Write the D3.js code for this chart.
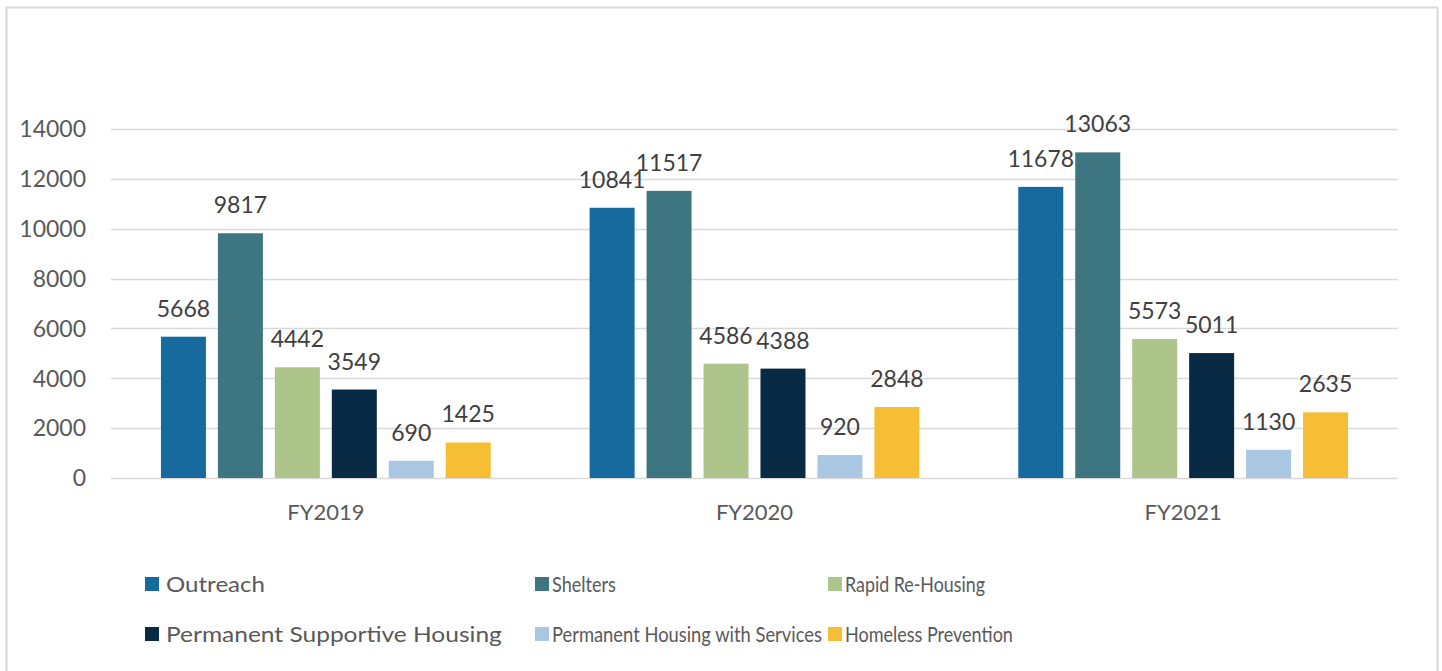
<!DOCTYPE html>
<html>
<head>
<meta charset="utf-8">
<script src="https://cdn.jsdelivr.net/npm/d3@7"></script>
<style>
  body { margin: 0; background: #fff; }
  text { font-family: Lato, "Open Sans", sans-serif; }
</style>
</head>
<body>
<div id="chart"></div>
<script>
// data
const years = ["FY2019", "FY2020", "FY2021"];
const programs = ["Outreach", "Shelters", "Rapid Re-Housing", "Permanent Supportive Housing", "Permanent Housing with Services", "Homeless Prevention"];
const outreach = [5668, 10841, 11678];
const shelters = [9817, 11517, 13063];
const rapidRehousing = [4442, 4586, 5573];
const permSupportive = [3549, 4388, 5011];
const permWithServices = [690, 920, 1130];
const homelessPrevention = [1425, 2848, 2635];
const yTicks = [0, 2000, 4000, 6000, 8000, 10000, 12000, 14000];
const colors = ["#176a9e", "#3d7580", "#adc58b", "#082a45", "#a9c6e3", "#f5be35"];

const series = [outreach, shelters, rapidRehousing, permSupportive, permWithServices, homelessPrevention];

const width = 1442, height = 671;
const svg = d3.select("#chart").append("svg")
  .attr("width", width)
  .attr("height", height);

// frame
svg.append("path")
  .attr("d", `M6.5,${height} V7.5 H1437.5 V${height}`)
  .attr("fill", "none")
  .attr("stroke", "#d9d9d9")
  .attr("stroke-width", 2);

const x0 = d3.scaleBand()
  .domain(years)
  .range([111.5, 1397.5]);

const x1 = d3.scaleBand()
  .domain(d3.range(programs.length))
  .range([0, x0.bandwidth()])
  .paddingInner(0.21)
  .paddingOuter(0.868);

const y = d3.scaleLinear()
  .domain([0, 14000])
  .range([478, 129]);

// gridlines
svg.append("g")
  .selectAll("line")
  .data(yTicks)
  .join("line")
  .attr("x1", 111)
  .attr("x2", 1398)
  .attr("y1", d => Math.round(y(d)) + 0.5)
  .attr("y2", d => Math.round(y(d)) + 0.5)
  .attr("stroke", "#d9d9d9")
  .attr("stroke-width", 1.5);

// y tick labels
svg.append("g")
  .selectAll("text")
  .data(yTicks)
  .join("text")
  .attr("x", 86)
  .attr("y", d => y(d))
  .attr("dy", "0.36em")
  .attr("text-anchor", "end")
  .attr("fill", "#595959")
  .style("font-size", "23px")
  .text(d => d);

// bars
const groups = svg.append("g")
  .selectAll("g")
  .data(years)
  .join("g")
  .attr("transform", d => `translate(${x0(d)},0)`);

groups.selectAll("rect")
  .data((d, yi) => series.map((s, i) => ({ i, v: s[yi] })))
  .join("rect")
  .attr("x", d => x1(d.i))
  .attr("width", x1.bandwidth())
  .attr("y", d => y(d.v))
  .attr("height", d => y(0) - y(d.v))
  .attr("fill", d => colors[d.i]);

groups.selectAll("text.val")
  .data((d, yi) => series.map((s, i) => ({ i, v: s[yi] })))
  .join("text")
  .attr("class", "val")
  .attr("x", d => x1(d.i) + x1.bandwidth() / 2)
  .attr("y", d => y(d.v) - 20)
  .attr("text-anchor", "middle")
  .attr("fill", "#404040")
  .style("font-size", "23px")
  .text(d => d.v);

// category labels
svg.append("g")
  .selectAll("text")
  .data(years)
  .join("text")
  .attr("x", d => x0(d) + x0.bandwidth() / 2)
  .attr("y", 520)
  .attr("text-anchor", "middle")
  .attr("fill", "#595959")
  .style("font-size", "22px")
  .text(d => d);

// legend (Excel-style wrapped rows, text widths matched to the original)
const legendCols = [145, 535, 828];
const legendTextWidth = [99, 64, 140, 336, 270, 168];
const legend = svg.append("g")
  .selectAll("g")
  .data(programs)
  .join("g")
  .attr("transform", (d, i) => `translate(${legendCols[i % 3]},${584 + Math.floor(i / 3) * 50})`);

legend.append("rect")
  .attr("x", 0)
  .attr("y", -7)
  .attr("width", 14)
  .attr("height", 14)
  .attr("fill", (d, i) => colors[i]);

legend.append("text")
  .attr("y", 0)
  .attr("dy", "0.36em")
  .attr("fill", "#595959")
  .style("font-size", "22px")
  .text(d => d)
  .each(function(d, i) {
    const w = this.getComputedTextLength();
    const sx = legendTextWidth[i] / w;
    const tx = i % 3 === 0 ? 21 : 17;
    d3.select(this).attr("transform", `translate(${tx},0) scale(${sx},1)`);
  });
</script>
</body>
</html>
